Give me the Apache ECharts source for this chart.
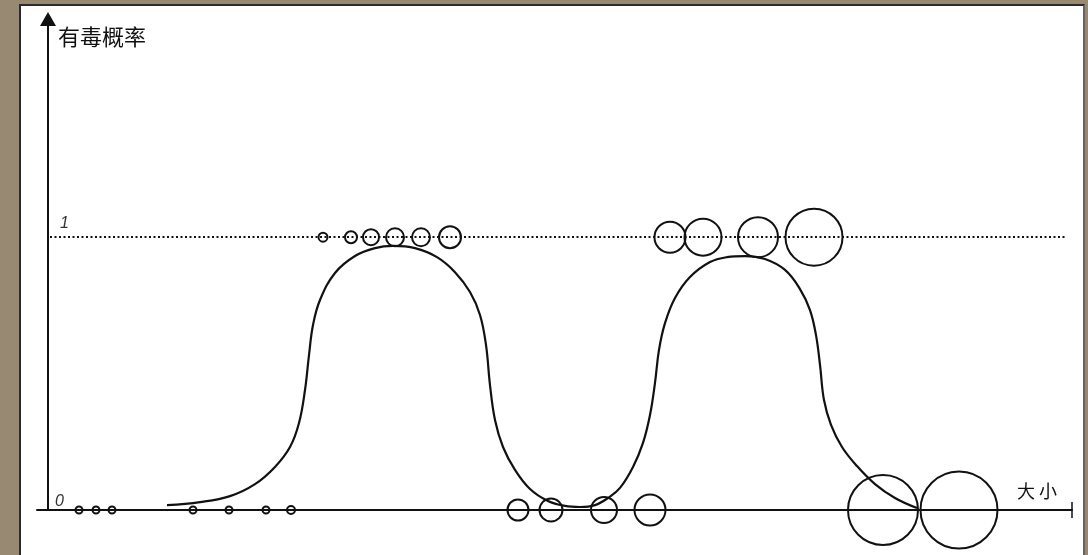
<!DOCTYPE html>
<html>
<head>
<meta charset="utf-8">
<title>有毒概率</title>
<script src="https://cdn.jsdelivr.net/npm/echarts@6/dist/echarts.min.js"></script>
<style>
  html, body { margin: 0; padding: 0; }
  body { width: 1088px; height: 555px; background: #988a72; position: relative; overflow: hidden; }
  #paper { position: absolute; left: 19px; top: 4px; width: 1062px; height: 560px; background: #fff;
           border-left: 2px solid #2b2b2b; border-top: 2px solid #2b2b2b; border-right: 2px solid #666; }
  #chart { position: absolute; left: 0; top: 0; width: 1088px; height: 555px; }
</style>
</head>
<body>
<div id="paper"></div>
<div id="chart"></div>
<script>
// hand drawn curve: 有毒概率 against 大小
const curveX = [11.9, 15.2, 18.2, 20.7, 22.7, 24.2, 25.1, 25.7, 26.1, 26.5, 27.2, 28.7, 30.7, 32.7, 34.5,
  36.7, 38.9, 40.7, 42.2, 43.2, 43.8, 44.2, 44.7, 45.5, 46.7, 48.2, 50.0, 51.7, 53.2, 54.7, 56.0,
  57.2, 58.5, 59.5, 60.2, 60.7, 61.1, 61.7, 62.7, 64.2, 66.2, 67.9, 69.7, 71.7, 73.7, 75.2, 76.2,
  76.8, 77.2, 77.6, 78.3, 79.4, 80.9, 82.7, 84.7, 86.9];
const curveY = [0.018, 0.029, 0.051, 0.095, 0.158, 0.231, 0.319, 0.440, 0.568, 0.678, 0.770, 0.869, 0.931,
  0.960, 0.968, 0.960, 0.927, 0.872, 0.799, 0.715, 0.605, 0.458, 0.330, 0.231, 0.147, 0.077, 0.033,
  0.015, 0.011, 0.018, 0.044, 0.081, 0.158, 0.246, 0.348, 0.466, 0.587, 0.685, 0.777, 0.854, 0.909,
  0.927, 0.931, 0.920, 0.880, 0.810, 0.733, 0.641, 0.532, 0.403, 0.312, 0.231, 0.161, 0.095, 0.044,
  0.007];

// circles sitting on the "1" line (poisonous) and on the axis (safe)
const topX = [27.5, 30.3, 32.3, 34.7, 37.3, 40.2, 62.2, 65.5, 71.0, 76.6];
const topSize = [9, 12, 16, 18, 18, 22, 31, 37, 40, 57];
const bottomX = [3.1, 4.8, 6.4, 14.5, 18.1, 21.8, 24.3, 47.0, 50.3, 55.6, 60.2, 83.5, 91.1];
const bottomSize = [7, 7, 7, 7, 7, 7, 8, 21, 23, 26, 31, 70, 77];

const yTicks = [0, 1];
const ink = '#111';

const curve = curveX.map((x, i) => [x, curveY[i]]);
const topPts = topX.map((x, i) => [x, 1, topSize[i]]);
const bottomPts = bottomX.map((x, i) => [x, 0, bottomSize[i]]);

const circleStyle = {
  color: 'rgba(0,0,0,0)',
  borderColor: ink,
  borderWidth: 2,
  opacity: 1
};

const chart = echarts.init(document.getElementById('chart'), null, { renderer: 'canvas' });
chart.setOption({
  animation: false,
  backgroundColor: 'transparent',
  grid: { left: 37, right: 16, top: 19, bottom: 45 },
  xAxis: {
    type: 'value',
    min: -1.1,
    max: 102.4,
    name: '大 小',
    nameLocation: 'end',
    nameGap: -55,
    nameTextStyle: {
      fontFamily: 'Noto Sans CJK SC',
      fontSize: 18,
      color: ink,
      align: 'left',
      verticalAlign: 'bottom',
      lineHeight: 18,
      padding: [0, 0, 10, 0]
    },
    axisLine: {
      lineStyle: { color: ink, width: 2 },
      symbol: ['none', 'rect'],
      symbolSize: [16, 1.5]
    },
    axisTick: { show: false },
    axisLabel: { show: false },
    splitLine: { show: false }
  },
  yAxis: {
    type: 'value',
    min: 0,
    max: 1.8,
    name: '有毒概率',
    nameLocation: 'end',
    nameGap: -7,
    nameTextStyle: {
      fontFamily: 'Noto Sans CJK SC',
      fontSize: 22,
      color: ink,
      align: 'left',
      verticalAlign: 'top',
      lineHeight: 22,
      padding: [0, 0, 0, 10]
    },
    axisLine: {
      lineStyle: { color: ink, width: 2 },
      symbol: ['none', 'triangle'],
      symbolSize: [16, 14]
    },
    axisTick: { show: false },
    splitLine: { show: false },
    axisLabel: {
      inside: true,
      margin: 6,
      customValues: yTicks,
      verticalAlign: 'bottom',
      formatter: v => (v === 1 ? '{one|1}' : '{zero|0}'),
      rich: {
        one: { fontFamily: 'Liberation Sans', fontStyle: 'italic', fontSize: 16, color: '#333', padding: [0, 0, 6, 17] },
        zero: { fontFamily: 'Liberation Sans', fontStyle: 'italic', fontSize: 16, color: '#333', padding: [0, 0, 0, 12] }
      }
    }
  },
  series: [
    {
      name: 'curve',
      type: 'line',
      data: curve,
      smooth: 0.4,
      showSymbol: false,
      lineStyle: { color: ink, width: 2.2 },
      z: 3
    },
    {
      name: 'top',
      type: 'scatter',
      data: topPts,
      symbol: 'circle',
      symbolSize: d => d[2],
      itemStyle: circleStyle,
      z: 4,
      markLine: {
        silent: true,
        symbol: 'none',
        label: { show: false },
        lineStyle: { color: ink, width: 2, type: [2, 2.5], opacity: 1 },
        data: [[{ coord: [0.2, 1] }, { coord: [101.7, 1] }]]
      }
    },
    {
      name: 'bottom',
      type: 'scatter',
      data: bottomPts,
      symbol: 'circle',
      symbolSize: d => d[2],
      itemStyle: circleStyle,
      z: 4
    }
  ]
});
</script>
</body>
</html>
